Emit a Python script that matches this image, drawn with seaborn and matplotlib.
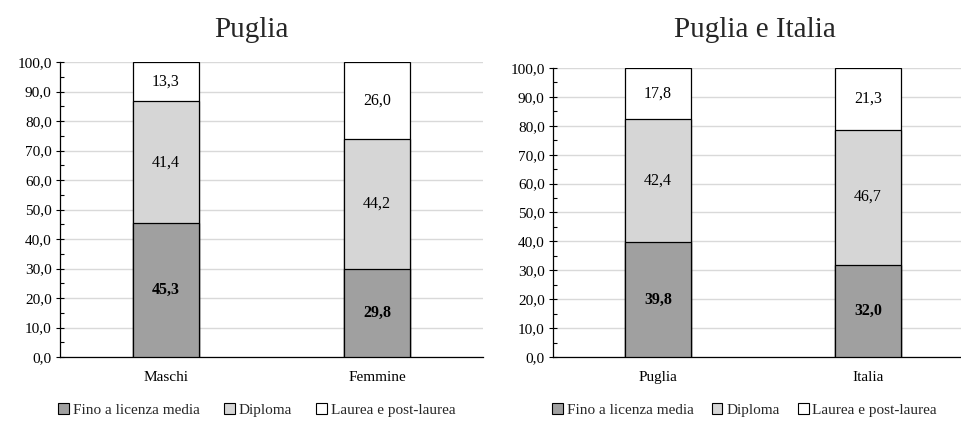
import matplotlib
matplotlib.use("Agg")
import matplotlib.pyplot as plt
import seaborn as sns
import numpy as np
import pandas as pd
from matplotlib.patches import Patch
from matplotlib.ticker import MultipleLocator, FuncFormatter

sns.set_theme(style="white")
plt.rcParams['font.family'] = ['Liberation Serif', 'DejaVu Serif']

series = ["Fino a licenza media", "Diploma", "Laurea e post-laurea"]
colors = ["#A0A0A0", "#D6D6D6", "#FFFFFF"]

left_title = "Puglia"
left_cats = ["Maschi", "Femmine"]
left_fino = [45.3, 29.8]
left_dipl = [41.4, 44.2]
left_laurea = [13.3, 26.0]

right_title = "Puglia e Italia"
right_cats = ["Puglia", "Italia"]
right_fino = [39.8, 32.0]
right_dipl = [42.4, 46.7]
right_laurea = [17.8, 21.3]

fig = plt.figure(figsize=(9.62, 4.25), dpi=100)
axL = fig.add_axes([60/962, 1-357/425, 423/962, 295/425])
axR = fig.add_axes([553/962, 1-357/425, 420/962, 289/425])

def fmt(v):
    return f"{v:.1f}".replace(".", ",")

def draw(ax, cats, vals, title, tx, legx, colsp):
    df = pd.DataFrame({"cat": cats})
    cum = np.cumsum(np.array(vals), axis=0)
    # draw from top cumulative downward so that layers stack
    for i in range(len(vals) - 1, -1, -1):
        d = df.copy()
        d["v"] = cum[i]
        sns.barplot(data=d, x="cat", y="v", color=colors[i], saturation=1,
                    width=0.31, edgecolor="black", linewidth=0.9, ax=ax, zorder=3)
    for j, c in enumerate(cats):
        bottom = 0
        for i in range(len(vals)):
            v = vals[i][j]
            ax.text(j, bottom + v / 2, fmt(v), ha="center", va="center",
                    fontsize=11.5, fontweight="bold" if i == 0 else "normal",
                    color="black", zorder=5)
            bottom += v
    ax.set_xlim(-0.5, 1.5)
    ax.set_ylim(0, 100)
    ax.set_xlabel("")
    ax.set_ylabel("")
    ax.yaxis.set_major_locator(MultipleLocator(10))
    ax.yaxis.set_minor_locator(MultipleLocator(5))
    ax.yaxis.set_major_formatter(FuncFormatter(lambda v, p: fmt(v)))
    ax.grid(axis="y", which="major", color="#D9D9D9", linewidth=1, zorder=0)
    ax.set_axisbelow(True)
    for s in ["top", "right"]:
        ax.spines[s].set_visible(False)
    ax.spines["left"].set_color("black")
    ax.spines["bottom"].set_color("black")
    ax.spines["left"].set_linewidth(0.9)
    ax.spines["bottom"].set_linewidth(0.9)
    ax.tick_params(axis="y", which="major", direction="inout", length=6, width=0.8,
                   labelsize=11, colors="black", left=True, pad=3)
    ax.tick_params(axis="y", which="minor", direction="in", length=3, width=0.8,
                   left=True, colors="black")
    ax.tick_params(axis="x", length=0, labelsize=11, pad=10, colors="black")
    fig.text(tx, 1 - 30/425, title, ha="center", va="center", fontsize=21)
    handles = [Patch(facecolor=colors[i], edgecolor="black", linewidth=0.8,
                     label=series[i]) for i in range(len(series))]
    fig.legend(handles=handles, loc="center left",
               bbox_to_anchor=(legx, 1 - 410/425), ncol=3, frameon=False,
               fontsize=11, handlelength=0.7, handleheight=0.7,
               handletextpad=0.25, columnspacing=colsp, borderaxespad=0,
               borderpad=0)

draw(axL, left_cats, [left_fino, left_dipl, left_laurea], left_title, 251/962, 58/962, 1.6)
draw(axR, right_cats, [right_fino, right_dipl, right_laurea], right_title, 755/962, 552/962, 1.2)

fig.savefig("out.png", dpi=100)
